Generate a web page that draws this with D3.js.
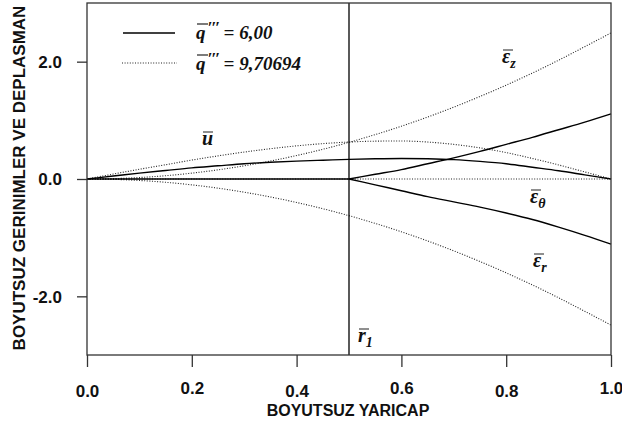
<!DOCTYPE html>
<html><head><meta charset="utf-8">
<script src="https://cdn.jsdelivr.net/npm/d3@7/dist/d3.min.js"></script>
<style>
html,body{margin:0;padding:0;background:#fff;}
svg{display:block;}
</style></head>
<body>
<svg id="c" width="622" height="422"></svg>
<script>
// ---- data ----
const xs = [0,0.05,0.1,0.15,0.2,0.25,0.3,0.35,0.4,0.45,0.5,0.55,0.6,0.65,0.7,0.75,0.8,0.85,0.9,0.95,1.0];
// q''' = 6,00 (solid)
const uSolid    = [0,0.05,0.10,0.145,0.19,0.225,0.26,0.285,0.305,0.32,0.335,0.345,0.35,0.345,0.33,0.30,0.26,0.20,0.14,0.07,0];
const ezSolid   = [0,0,0,0,0,0,0,0,0,0,0,0.08,0.16,0.26,0.36,0.47,0.59,0.71,0.84,0.97,1.11];
const etSolid   = [0,0,0,0,0,0,0,0,0,0,0,-0.10,-0.20,-0.30,-0.39,-0.48,-0.58,-0.69,-0.82,-0.96,-1.11];
// q''' = 9,70694 (dotted)
const uDot      = [0,0.084,0.166,0.243,0.323,0.394,0.459,0.516,0.565,0.603,0.630,0.645,0.648,0.630,0.59,0.53,0.45,0.35,0.24,0.12,0];
const ezDot     = [0,0.006,0.025,0.056,0.10,0.156,0.225,0.306,0.40,0.506,0.625,0.756,0.90,1.056,1.225,1.406,1.60,1.806,2.025,2.256,2.49];
const erDot     = [0,-0.006,-0.025,-0.056,-0.10,-0.156,-0.225,-0.306,-0.40,-0.506,-0.625,-0.756,-0.90,-1.056,-1.225,-1.406,-1.60,-1.806,-2.025,-2.256,-2.49];
const etDot     = [0,0,0,0,0,0,0,0,0,0,0,0,0,0,0,0,0,0,0,0,0];
const r1 = 0.5;
const xTicks = [0,0.2,0.4,0.6,0.8,1.0];
const yTicks = [-2,0,2];
const legendLabels = ["6,00","9,70694"];
const yTitle = "BOYUTSUZ GERINIMLER VE DEPLASMAN";
const xTitle = "BOYUTSUZ YARICAP";

// ---- drawing ----
const svg = d3.select("#c");
const L=87,R=611,T=3,B=355;
const x = d3.scaleLinear().domain([0,1]).range([L,R]);
const y = d3.scaleLinear().domain([-3,3]).range([B,T]);
const sans = "'Liberation Sans', Arial, sans-serif";
const serif = "'Liberation Serif', 'Times New Roman', serif";
const fmt = d => d3.format(".1f")(d).replace("\u2212","-");

const line = d3.line().x((d,i)=>x(xs[i])).y(d=>y(d)).curve(d3.curveMonotoneX);

const dotStyle = s => s.attr("fill","none").attr("stroke","#222").attr("stroke-width",1.1).attr("stroke-dasharray","1,1.6");
const solStyle = s => s.attr("fill","none").attr("stroke","#000").attr("stroke-width",1.4);

// dotted series
[uDot,ezDot,erDot,etDot].forEach(s=>{
  svg.append("path").attr("d",line(s)).call(dotStyle);
});
// solid series
svg.append("path").attr("d",line(uSolid)).call(solStyle);
[ezSolid,etSolid].forEach(s=>{
  const idx = xs.map((v,i)=>i).filter(i=>xs[i]>=r1);
  const l2 = d3.line().x(i=>x(xs[i])).y(i=>y(s[i])).curve(d3.curveMonotoneX);
  svg.append("path").attr("d",l2(idx)).call(solStyle);
});
// zero (elastic) part of the solid strain curves, 0..r1
svg.append("path").attr("d",d3.line()([[x(0),y(0)],[x(r1),y(0)]])).call(solStyle).attr("stroke-width",1.6);

// r1 vertical line
svg.append("line").attr("x1",x(r1)).attr("x2",x(r1)).attr("y1",y(3)).attr("y2",y(-3))
  .attr("stroke","#000").attr("stroke-width",1.3);

// frame
svg.append("rect").attr("x",L).attr("y",T).attr("width",R-L).attr("height",B-T)
  .attr("fill","none").attr("stroke","#333").attr("stroke-width",1.3);

// axes
const ax = svg.append("g").attr("transform",`translate(0,${B})`)
  .call(d3.axisBottom(x).tickValues(xTicks).tickFormat(fmt).tickSize(12).tickPadding(18));
const ay = svg.append("g").attr("transform",`translate(${L},0)`)
  .call(d3.axisLeft(y).tickValues(yTicks).tickFormat(fmt).tickSize(10).tickPadding(15));
[ax,ay].forEach(g=>{
  g.select(".domain").remove();
  g.selectAll(".tick line").attr("stroke","#333").attr("stroke-width",1.3);
  g.selectAll(".tick text").attr("fill","#111").style("font-family",sans).style("font-weight","bold").style("font-size","17px");
});
ax.selectAll(".tick text").attr("dy",(d,i)=> i%2===0 ? "0.71em" : "0.53em");
ay.selectAll(".tick text").attr("dy","0.35em");

// axis titles
svg.append("text").attr("x",348).attr("y",416).attr("text-anchor","middle")
  .style("font-family",sans).style("font-weight","bold").style("font-size","16px").attr("fill","#111").text(xTitle);
svg.append("text").attr("transform",`translate(25,${178}) rotate(-90)`).attr("text-anchor","middle")
  .style("font-family",sans).style("font-weight","bold").style("font-size","17px").attr("fill","#111").text(yTitle);

// legend
const lg = svg.append("g");
lg.append("line").attr("x1",123).attr("x2",175).attr("y1",33).attr("y2",33).attr("stroke","#000").attr("stroke-width",1.4);
lg.append("line").attr("x1",122).attr("x2",177).attr("y1",63).attr("y2",63).call(dotStyle);
legendLabels.forEach((lab,i)=>{
  const by = 39 + i*31;
  const t = lg.append("text").attr("x",196).attr("y",by)
    .style("font-family",serif).style("font-weight","bold").style("font-style","italic").style("font-size","19px").attr("fill","#111");
  t.append("tspan").text("q");
  t.append("tspan").attr("dy",-6).attr("dx",2).style("font-size","17px").style("letter-spacing","-1px").text("\u2032\u2032\u2032");
  t.append("tspan").attr("dy",6).text(" = " + lab);
  lg.append("line").attr("x1",197).attr("x2",208).attr("y1",by-15).attr("y2",by-15).attr("stroke","#222").attr("stroke-width",1.2);
});

// curve labels
function lab(xp,yp,main,sub){
  const t = svg.append("text").attr("x",xp).attr("y",yp)
    .style("font-family",serif).style("font-weight","bold").style("font-style","italic").style("font-size","20px").attr("fill","#111");
  t.append("tspan").text(main);
  if(sub) t.append("tspan").attr("dy",5).style("font-size","14px").text(sub);
  svg.append("line").attr("x1",xp+1).attr("x2",xp+11).attr("y1",yp-13).attr("y2",yp-13).attr("stroke","#333").attr("stroke-width",1.1);
}
lab(502,63,"ε","z");
lab(202,145,"u",null);
lab(530,203,"ε","θ");
lab(533,267,"ε","r");
lab(358,342,"r","1");
</script>
</body></html>
